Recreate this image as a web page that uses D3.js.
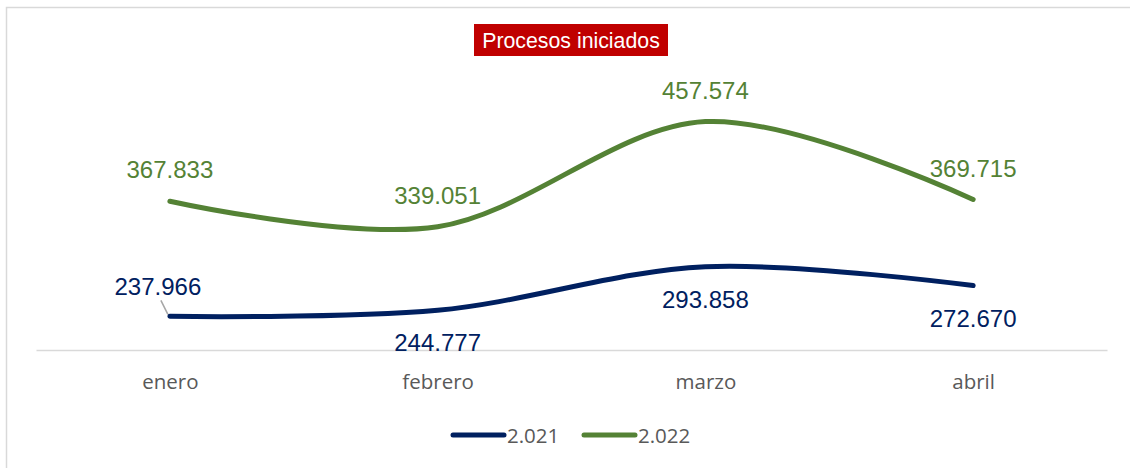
<!DOCTYPE html>
<html>
<head>
<meta charset="utf-8">
<script src="https://cdn.jsdelivr.net/npm/d3@7"></script>
<style>
  body { margin: 0; background: #fff; }
  svg { display: block; }
</style>
</head>
<body>
<div id="chart"></div>
<script>
let months = ['enero', 'febrero', 'marzo', 'abril'];
let series2021 = [237966, 244777, 293858, 272670];
let series2022 = [367833, 339051, 457574, 369715];
let seriesNames = ['2.021', '2.022'];
let title = 'Procesos iniciados';

let width = 1130, height = 468;
let colors = ['#002060', '#548235'];

let svg = d3.select('#chart').append('svg').attr('width', width).attr('height', height);

// chart border
svg.append('rect').attr('x', 6.5).attr('y', 7.5)
  .attr('width', width).attr('height', height)
  .attr('fill', 'none').attr('stroke', '#d9d9d9').attr('stroke-width', 1.5);

let plot = {left: 36, right: 1107, top: 84, bottom: 350};

let xScale = d3.scalePoint().domain(months).range([plot.left, plot.right]).padding(0.5);
let yScale = d3.scaleLinear().domain([200000, 500000]).range([plot.bottom, plot.top]);

let fmt = d3.formatLocale({decimal: ',', thousands: '.', grouping: [3], currency: ['', '']}).format(',d');

// category axis
let xAxis = d3.axisBottom(xScale).tickSize(0).tickPadding(24);
let axisG = svg.append('g').attr('transform', 'translate(0,' + plot.bottom + ')').call(xAxis);
axisG.select('.domain').attr('stroke', '#d9d9d9').attr('stroke-width', 1.5);
axisG.selectAll('text')
  .attr('font-family', '"Open Sans", sans-serif').attr('font-size', 20.5).attr('fill', '#595959');

let line = d3.line()
  .x((d, i) => xScale(months[i]))
  .y(d => yScale(d))
  .curve(d3.curveCardinal.tension(0));

let allSeries = [series2021, series2022];

allSeries.forEach((s, k) => {
  svg.append('path').datum(s)
    .attr('d', line)
    .attr('fill', 'none')
    .attr('stroke', colors[k])
    .attr('stroke-width', 5)
    .attr('stroke-linecap', 'round');
});

// data labels: 2.022 above, 2.021 below (first one moved up with a leader line)
let labelG = svg.append('g')
  .attr('font-family', '"Liberation Sans", Arial, sans-serif')
  .attr('font-size', 24)
  .attr('text-anchor', 'middle');

series2022.forEach((v, i) => {
  labelG.append('text')
    .attr('x', xScale(months[i]))
    .attr('y', yScale(v) - 23)
    .attr('fill', colors[1])
    .text(fmt(v));
});

series2021.forEach((v, i) => {
  let dx = 0, dy = 41;
  if (i == 0) { dx = -12; dy = -21; }
  labelG.append('text')
    .attr('x', xScale(months[i]) + dx)
    .attr('y', yScale(v) + dy)
    .attr('fill', colors[0])
    .text(fmt(v));
  if (i == 0) {
    svg.append('line')
      .attr('x1', xScale(months[i]) - 9).attr('y1', yScale(v) - 16)
      .attr('x2', xScale(months[i]) - 2).attr('y2', yScale(v) - 2)
      .attr('stroke', '#a6a6a6').attr('stroke-width', 1.5);
  }
});

// title
let titleG = svg.append('g');
titleG.append('rect').attr('x', 474).attr('y', 24).attr('width', 194).attr('height', 32).attr('fill', '#c00000');
titleG.append('text').attr('x', 571).attr('y', 48)
  .attr('text-anchor', 'middle')
  .attr('font-family', '"Liberation Sans", Arial, sans-serif')
  .attr('font-size', 21.3).attr('fill', '#ffffff')
  .text(title);

// legend
let legend = svg.append('g').attr('transform', 'translate(453,435)');
let legendX = [0, 131];
seriesNames.forEach((name, k) => {
  let g = legend.append('g').attr('transform', 'translate(' + legendX[k] + ',0)');
  g.append('line').attr('x1', 0).attr('x2', 51).attr('y1', 0).attr('y2', 0)
    .attr('stroke', colors[k]).attr('stroke-width', 5).attr('stroke-linecap', 'round');
  g.append('text').attr('x', 54).attr('y', 7.5)
    .attr('font-family', '"Open Sans", sans-serif').attr('font-size', 20.5).attr('fill', '#595959')
    .text(name);
});
</script>
</body>
</html>
